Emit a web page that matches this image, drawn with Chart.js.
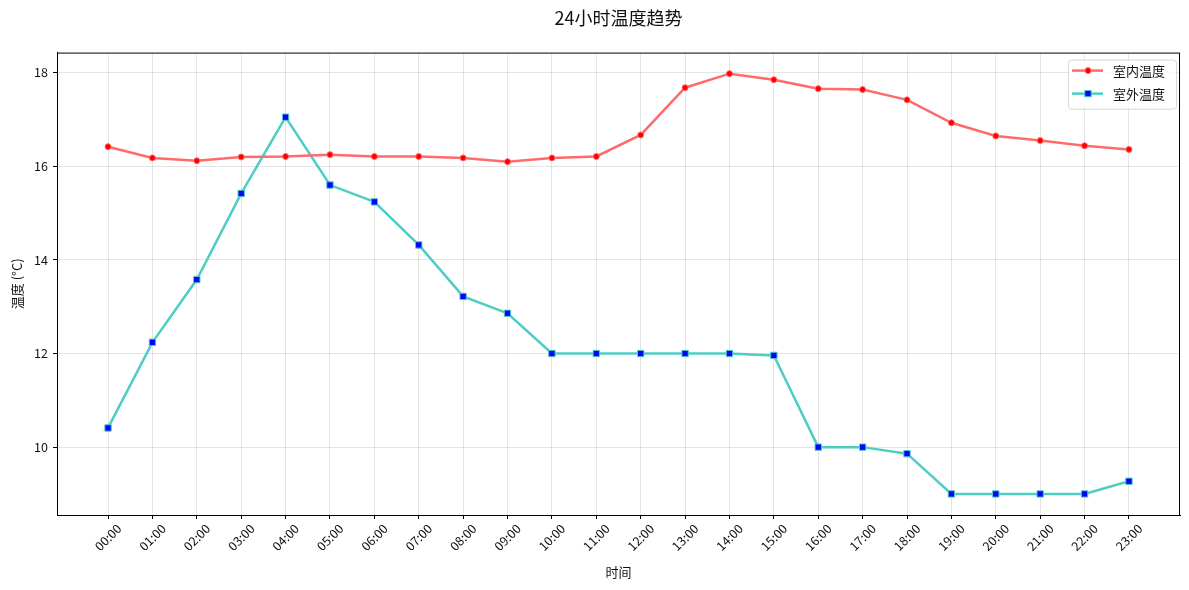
<!DOCTYPE html>
<html>
<head>
<meta charset="utf-8">
<title>24小时温度趋势</title>
<script src="https://cdn.jsdelivr.net/npm/chart.js@4.4.1/dist/chart.umd.min.js"></script>
<style>
  html, body { margin: 0; padding: 0; background: #fff; }
  #wrap { width: 1189px; height: 590px; }
</style>
</head>
<body>
<div id="wrap"><canvas id="tempChart" width="1189" height="590"></canvas></div>
<script>
const hours = ["00:00", "01:00", "02:00", "03:00", "04:00", "05:00", "06:00", "07:00",
  "08:00", "09:00", "10:00", "11:00", "12:00", "13:00", "14:00", "15:00",
  "16:00", "17:00", "18:00", "19:00", "20:00", "21:00", "22:00", "23:00"];

const indoor = [16.42, 16.18, 16.12, 16.20, 16.21, 16.25, 16.21, 16.21,
  16.18, 16.10, 16.18, 16.21, 16.67, 17.68, 17.98, 17.85,
  17.66, 17.64, 17.42, 16.93, 16.65, 16.55, 16.44, 16.36];

const outdoor = [10.41, 12.24, 13.58, 15.42, 17.05, 15.60, 15.24, 14.32,
  13.22, 12.86, 12.00, 12.00, 12.00, 12.00, 12.00, 11.96,
  10.00, 10.00, 9.86, 9.00, 9.00, 9.00, 9.00, 9.27];

const yTicks = [10, 12, 14, 16, 18];

Chart.defaults.font.family = "'Noto Sans CJK SC', 'Noto Sans', sans-serif";
Chart.defaults.color = "#111";

const toPoints = (vals) => vals.map((v, i) => ({ x: i, y: v }));

// black frame round the plot, matplotlib style
const framePlugin = {
  id: "frame",
  afterDraw(chart) {
    const { ctx, chartArea: a } = chart;
    ctx.save();
    ctx.strokeStyle = "#000";
    ctx.lineWidth = 1;
    ctx.strokeRect(a.left + 0.5, a.top + 0.5, a.right - a.left - 1, a.bottom - a.top);
    ctx.restore();
  }
};

// legend drawn inside the plot, top right
const innerLegend = {
  id: "innerLegend",
  afterDraw(chart) {
    const { ctx, chartArea: a } = chart;
    const x0 = a.right - 112, y0 = a.top + 7, w = 108, h = 49;
    ctx.save();
    ctx.fillStyle = "rgba(255,255,255,0.8)";
    ctx.strokeStyle = "#d6d6d6";
    ctx.lineWidth = 1;
    ctx.beginPath();
    ctx.roundRect(x0 + 0.5, y0 + 0.5, w, h, 3);
    ctx.fill();
    ctx.stroke();
    chart.data.datasets.forEach((ds, i) => {
      const y = y0 + 11 + i * 23;
      ctx.strokeStyle = ds.borderColor;
      ctx.lineWidth = ds.borderWidth;
      ctx.beginPath();
      ctx.moveTo(x0 + 4, y);
      ctx.lineTo(x0 + 35, y);
      ctx.stroke();
      ctx.fillStyle = ds.pointBackgroundColor;
      ctx.strokeStyle = ds.pointBorderColor;
      ctx.lineWidth = ds.pointBorderWidth;
      ctx.beginPath();
      if (ds.pointStyle === "rect") {
        const s = Math.SQRT1_2 * ds.pointRadius;
        ctx.rect(x0 + 20 - s, y - s, 2 * s, 2 * s);
      } else {
        ctx.arc(x0 + 20, y, ds.pointRadius, 0, Math.PI * 2);
      }
      ctx.fill();
      ctx.stroke();
      ctx.fillStyle = "#111";
      ctx.font = "13px 'Noto Sans CJK SC', sans-serif";
      ctx.textBaseline = "middle";
      ctx.fillText(ds.label, x0 + 45, y);
    });
    ctx.restore();
  }
};

new Chart(document.getElementById("tempChart"), {
  type: "line",
  data: {
    datasets: [{
      label: "室内温度",
      data: toPoints(indoor),
      borderColor: "#FF6B6B",
      borderWidth: 2.5,
      pointStyle: "circle",
      pointRadius: 3,
      pointBackgroundColor: "#ff0000",
      pointBorderColor: "#FF6B6B",
      pointBorderWidth: 1,
      tension: 0
    }, {
      label: "室外温度",
      data: toPoints(outdoor),
      borderColor: "#4ECDC4",
      borderWidth: 2.5,
      pointStyle: "rect",
      pointRadius: 4.5,
      pointBackgroundColor: "#0000ff",
      pointBorderColor: "#4ECDC4",
      pointBorderWidth: 1,
      tension: 0
    }]
  },
  options: {
    responsive: false,
    animation: false,
    devicePixelRatio: 1,
    layout: { padding: { left: 0, right: 9, top: 0, bottom: 0 } },
    plugins: {
      legend: { display: false },
      tooltip: { enabled: false },
      title: {
        display: true,
        fullSize: false,
        text: "24小时温度趋势",
        font: { size: 18, weight: "normal" },
        color: "#111",
        padding: { top: 7, bottom: 24 }
      }
    },
    scales: {
      x: {
        type: "linear",
        min: -1.15,
        max: 24.15,
        afterBuildTicks: (scale) => { scale.ticks = hours.map((_, i) => ({ value: i })); },
        afterFit: (scale) => { scale.height = 75; },
        ticks: {
          callback: (v) => hours[v],
          minRotation: 45,
          maxRotation: 45,
          labelOffset: 11,
          padding: 2,
          font: { size: 12.5 }
        },
        grid: { color: "rgba(0,0,0,0.1)", lineWidth: 1, tickColor: "#000", tickLength: 4 },
        border: { color: "#000", width: 1 },
        title: { display: true, text: "时间", font: { size: 13 }, padding: { top: 0, bottom: 10 } }
      },
      y: {
        min: 8.55,
        max: 18.43,
        afterBuildTicks: (scale) => { scale.ticks = yTicks.map((v) => ({ value: v })); },
        afterFit: (scale) => { scale.width = 57; },
        ticks: { padding: 5, font: { size: 12.5 } },
        grid: { color: "rgba(0,0,0,0.1)", lineWidth: 1, tickColor: "#000", tickLength: 4 },
        border: { color: "#000", width: 1 },
        title: { display: true, text: "温度 (°C)", font: { size: 13 }, padding: { top: 9, bottom: 0 } }
      }
    }
  },
  plugins: [framePlugin, innerLegend]
});
</script>
</body>
</html>
